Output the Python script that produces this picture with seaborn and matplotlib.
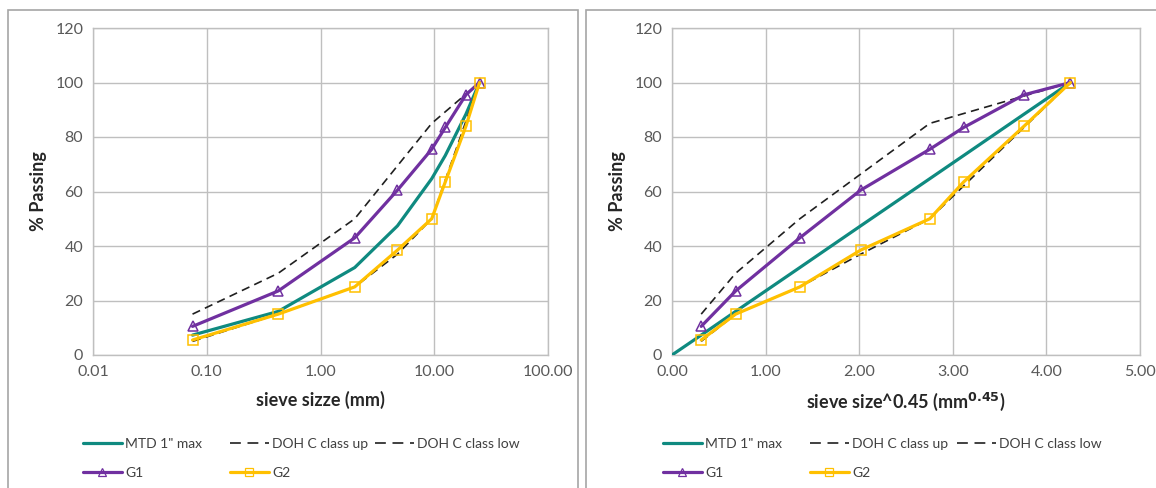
import matplotlib
matplotlib.use("Agg")
import matplotlib.pyplot as plt
from matplotlib.patches import Rectangle
from matplotlib.lines import Line2D
import seaborn as sns
import pandas as pd

# ---------------- data ----------------
sieve_mm = [0.075, 0.425, 2.0, 4.75, 9.5, 12.5, 19.0, 25.0]
sieve_pow = [0.312, 0.680, 1.366, 2.016, 2.754, 3.116, 3.762, 4.257]   # sieve size^0.45

mtd_x_mm = [0.075, 0.425, 2.0, 4.75, 9.5, 12.5, 19.0, 25.0]
mtd_x_pow = [0.0, 0.312, 0.680, 1.366, 2.016, 2.754, 3.116, 3.762, 4.257]
mtd_y_mm = [7.3, 16.0, 32.1, 47.4, 64.7, 73.2, 88.4, 100.0]
mtd_y_pow = [0.0, 7.3, 16.0, 32.1, 47.4, 64.7, 73.2, 88.4, 100.0]

doh_x_mm = [0.075, 0.425, 2.0, 9.5, 25.0]
doh_x_pow = [0.312, 0.680, 1.366, 2.754, 4.257]
doh_up = [15, 30, 50, 85, 100]

low_x_mm = [0.075, 0.425, 2.0, 4.75, 9.5, 25.0]
low_x_pow = [0.312, 0.680, 1.366, 2.016, 2.754, 4.257]
doh_low = [5, 15, 25, 37, 50, 100]

g1 = [10.5, 23.5, 43.0, 60.5, 75.5, 83.5, 95.5, 100.0]
g2 = [5.5, 15.0, 25.0, 38.5, 50.0, 63.5, 84.0, 100.0]

y_ticks = [0, 20, 40, 60, 80, 100, 120]
left_xticks = [0.01, 0.1, 1, 10, 100]
left_xlabels = ["0.01", "0.10", "1.00", "10.00", "100.00"]
right_xticks = [0, 1, 2, 3, 4, 5]
right_xlabels = ["0.00", "1.00", "2.00", "3.00", "4.00", "5.00"]

labels = ['MTD 1" max', "DOH C class up", "DOH C class low", "G1", "G2"]

# ---------------- style ----------------
sns.set_theme(style="white")
plt.rcParams["font.family"] = ["Lato", "DejaVu Sans"]

TEAL = "#0F8A80"
PURPLE = "#7030A0"
YELLOW = "#FFC000"
DASH = "#202020"
GRID = "#BFBFBF"
TICKC = "#595959"

W, H = 1156, 488
fig = plt.figure(figsize=(W / 100, H / 100), dpi=100)

# chart-area borders
fig.patches.append(Rectangle((8 / W, -0.05), (578 - 8) / W, (H - 10) / H + 0.05,
                             transform=fig.transFigure, fill=False,
                             edgecolor="#A6A6A6", lw=1.2))
fig.patches.append(Rectangle((586 / W, -0.05), (W + 5 - 586) / W, (H - 10) / H + 0.05,
                             transform=fig.transFigure, fill=False,
                             edgecolor="#A6A6A6", lw=1.2))

ax1 = fig.add_axes([93 / W, (H - 355) / H, (548 - 93) / W, (355 - 28) / H])
ax2 = fig.add_axes([672 / W, (H - 355) / H, (1140 - 672) / W, (355 - 28) / H])

dash_style = (0, (5, 3.2))
leg_dash = (0, (6.5, 4))


def draw(ax, xm, ym, xu, xl, xg):
    sns.lineplot(x=xm, y=ym, ax=ax, color=TEAL, lw=2.3, zorder=3)
    sns.lineplot(x=xu, y=doh_up, ax=ax, color=DASH, lw=1.2,
                 linestyle=dash_style, zorder=3)
    sns.lineplot(x=xl, y=doh_low, ax=ax, color=DASH, lw=1.2,
                 linestyle=dash_style, zorder=3)
    sns.lineplot(x=xg, y=g1, ax=ax, color=PURPLE, lw=2.3, marker="^",
                 markersize=7.5, markerfacecolor="none", markeredgecolor=PURPLE,
                 markeredgewidth=1.1, zorder=4)
    sns.lineplot(x=xg, y=g2, ax=ax, color=YELLOW, lw=2.3, marker="s",
                 markersize=7.5, markerfacecolor="none", markeredgecolor=YELLOW,
                 markeredgewidth=1.1, zorder=5)


draw(ax1, mtd_x_mm, mtd_y_mm, doh_x_mm, low_x_mm, sieve_mm)
draw(ax2, mtd_x_pow, mtd_y_pow, doh_x_pow, low_x_pow, sieve_pow)

ax1.set_xscale("log")
ax1.set_xlim(0.01, 100)
ax1.set_xticks(left_xticks)
ax1.set_xticklabels(left_xlabels)
ax1.minorticks_off()
ax2.set_xlim(0, 5)
ax2.set_xticks(right_xticks)
ax2.set_xticklabels(right_xlabels)

for ax in (ax1, ax2):
    ax.set_ylim(0, 120)
    ax.set_yticks(y_ticks)
    ax.grid(True, color=GRID, lw=1.0)
    ax.set_axisbelow(True)
    for s in ax.spines.values():
        s.set_color(GRID)
        s.set_linewidth(1.0)
    ax.tick_params(axis="both", length=0, labelsize=11.5, colors=TICKC, pad=7)
    ax.set_ylabel("% Passing", fontsize=13, fontweight="bold", color="#262626",
                  labelpad=6)

ax1.set_xlabel("sieve sizze (mm)", fontsize=13, fontweight="bold",
               color="#262626", labelpad=9)
ax2.set_xlabel(r"sieve size^0.45 (mm$^{\mathbf{0.45}}$)", fontsize=13,
               fontweight="bold", color="#262626", labelpad=9)


def make_handles():
    return [
        Line2D([], [], color=TEAL, lw=2.3),
        Line2D([], [], color=DASH, lw=1.2, linestyle=leg_dash),
        Line2D([], [], color=DASH, lw=1.2, linestyle=leg_dash),
        Line2D([], [], color=PURPLE, lw=2.3, marker="^", markersize=5.5,
               markerfacecolor="none", markeredgecolor=PURPLE, markeredgewidth=0.9),
        Line2D([], [], color=YELLOW, lw=2.3, marker="s", markersize=5.5,
               markerfacecolor="none", markeredgecolor=YELLOW, markeredgewidth=0.9),
    ]


def add_legends(col_x):
    h = make_handles()
    groups = [([h[0], h[3]], [labels[0], labels[3]]),
              ([h[1], h[4]], [labels[1], labels[4]]),
              ([h[2]], [labels[2]])]
    for x, (hh, ll) in zip(col_x, groups):
        fig.legend(hh, ll, loc="upper left",
                   bbox_to_anchor=(x / W, (H - 438) / H),
                   bbox_transform=fig.transFigure, frameon=False,
                   fontsize=10, handlelength=2.8, handletextpad=0.25,
                   borderpad=0, borderaxespad=0, labelspacing=1.2,
                   labelcolor="#404040")


add_legends([83, 230, 375])
add_legends([663, 810, 957])

fig.savefig("out.png", dpi=100)
